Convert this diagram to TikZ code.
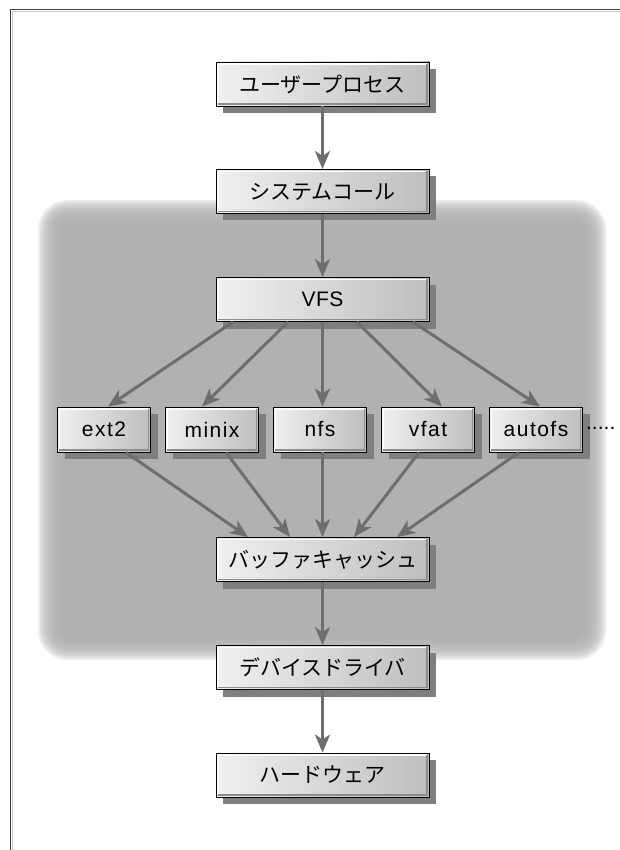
\documentclass[tikz,border=0pt]{standalone}
\usepackage{fontspec}
\setmainfont{Liberation Sans}
\newfontfamily\jpfont{Noto Sans CJK JP}
\usetikzlibrary{arrows.meta,shadows,calc}
\definecolor{regiongray}{HTML}{B0B0B0}
\definecolor{boxL}{HTML}{F0F0F0}
\definecolor{boxR}{HTML}{BEBEBE}
\definecolor{shadowgray}{HTML}{7F7F7F}
\definecolor{bevelgray}{HTML}{8C8C8C}
\definecolor{arrowgray}{HTML}{6E6E6E}
\definecolor{framegray}{HTML}{404040}
\begin{document}
\begin{tikzpicture}[x=1pt,y=-1pt,
  boxbase/.style={draw=black, line width=0.9pt, left color=boxL, right color=boxR, inner sep=0pt,
    drop shadow={shadow xshift=7pt,shadow yshift=-7pt,fill=shadowgray,opacity=1},
    path picture={
      \draw[white,line width=1.5pt] ([shift={(1.8pt,1.8pt)}]path picture bounding box.south west) |- ([shift={(-1.8pt,-1.8pt)}]path picture bounding box.north east);
      \draw[bevelgray,line width=1.5pt] ([shift={(1.8pt,1.8pt)}]path picture bounding box.south west) -| ([shift={(-1.8pt,-1.8pt)}]path picture bounding box.north east);
    }},
  jptext/.style={font=\jpfont\fontsize{21pt}{25pt}\selectfont},
  vfstext/.style={font=\fontsize{21pt}{25pt}\selectfont\addfontfeature{LetterSpace=2}},
  lattext/.style={font=\fontsize{21pt}{25pt}\selectfont\addfontfeature{LetterSpace=7}},
  dottext/.style={font=\fontsize{21pt}{25pt}\selectfont},
  mainbox/.style={boxbase, minimum width=213pt, minimum height=44pt},
  fsbox/.style={boxbase, lattext, minimum width=93pt, minimum height=45pt},
  flow/.style={draw=arrowgray, line width=3pt, -{Stealth[length=18pt,width=15pt,inset=5pt]}}
]
\useasboundingbox (0,0) rectangle (620,850);
\fill[white] (0,0) rectangle (620,850);
% frame
\draw[framegray, line width=1.2pt] (10.5,850) -- (10.5,9.5) -- (620,9.5);
\draw[gray!40, line width=0.8pt] (12.2,850) -- (12.2,11.2) -- (620,11.2);
% soft gray region
\foreach \e in {12,10,...,-12}{
  \pgfmathsetmacro\rr{max(4,18+\e)}
  \fill[regiongray, opacity=0.22, rounded corners=\rr pt] ({50-\e},{212-\e}) rectangle ({594+\e},{648+\e});
}
% nodes
\node[mainbox, jptext] (up)  at (322.5,84)    {ユーザープロセス};
\node[mainbox, jptext] (sc)  at (322.5,191.5) {システムコール};
\node[mainbox, vfstext] (vfs) at (322.5,299.5) {VFS};
\node[fsbox] (ext2)   at (104,429.5) {ext2};
\node[fsbox] (minix)  at (212,429.5) {minix};
\node[fsbox] (nfs)    at (320,429.5) {nfs};
\node[fsbox] (vfat)   at (428,429.5) {vfat};
\node[fsbox] (autofs) at (536,429.5) {autofs};
\node[dottext, anchor=base west, inner sep=0pt] (dots) at ($(autofs.east)+(3,0)$ |- autofs.base) {.....};
\node[mainbox, jptext] (bc)  at (322.5,559.5) {バッファキャッシュ};
\node[mainbox, jptext] (dd)  at (322.5,667.5) {デバイスドライバ};
\node[mainbox, jptext] (hw)  at (322.5,775)   {ハードウェア};
% connectors
\draw[flow] (up.south) -- (sc.north);
\draw[flow] (sc.south) -- (vfs.north);
\draw[flow] ($(vfs.south)+(-89.5,0)$) -- ($(ext2.north)+(4,0)$);
\draw[flow] ($(vfs.south)+(-34.5,0)$) -- ($(minix.north)+(-10,0)$);
\draw[flow] (vfs.south) -- ($(nfs.north)+(2.5,0)$);
\draw[flow] ($(vfs.south)+(34.5,0)$) -- ($(vfat.north)+(14,0)$);
\draw[flow] ($(vfs.south)+(90.5,0)$) -- ($(autofs.north)+(4,0)$);
\draw[flow] ($(ext2.south)+(22,0)$) -- ($(bc.north)+(-74.5,0)$);
\draw[flow] ($(minix.south)+(14,0)$) -- ($(bc.north)+(-32.5,0)$);
\draw[flow] ($(nfs.south)+(2.5,0)$) -- (bc.north);
\draw[flow] ($(vfat.south)+(-9,0)$) -- ($(bc.north)+(31.5,0)$);
\draw[flow] ($(autofs.south)+(-17,0)$) -- ($(bc.north)+(74.5,0)$);
\draw[flow] (bc.south) -- (dd.north);
\draw[flow] (dd.south) -- (hw.north);
\end{tikzpicture}
\end{document}
